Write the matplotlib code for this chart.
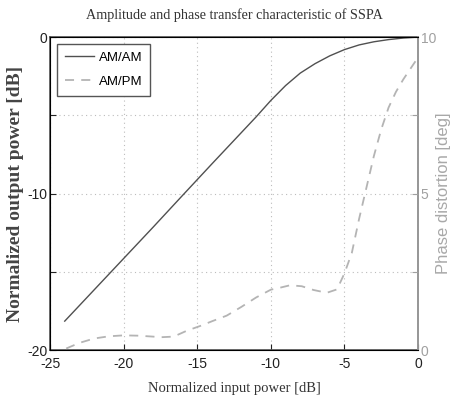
import matplotlib
matplotlib.use("Agg")
import matplotlib.pyplot as plt

# AM/AM: normalized output power vs normalized input power (dB)
am_in = [-24, -22, -20, -18, -16, -14, -12, -11, -10, -9, -8, -7, -6, -5, -4, -3, -2, -1, 0]
am_out = [-18.15, -16.15, -14.15, -12.15, -10.12, -8.1, -6.1, -5.1, -4.05, -3.1, -2.3,
          -1.7, -1.2, -0.8, -0.5, -0.3, -0.16, -0.06, 0.0]

# AM/PM: phase distortion (deg) vs normalized input power (dB)
pm_in = [-23.9, -23, -22, -21, -20, -19, -18, -17.5, -16.6, -15.7, -14.8, -14, -13, -12,
         -11, -10, -9.4, -8.7, -7.9, -7.1, -6.2, -5.5, -5.0, -4.5, -4.0, -3.5, -3.0,
         -2.5, -2.0, -1.5, -1.0, -0.5, 0]
pm_deg = [0.05, 0.23, 0.37, 0.44, 0.47, 0.46, 0.43, 0.41, 0.43, 0.62, 0.77, 0.92, 1.1,
          1.38, 1.68, 1.93, 1.99, 2.07, 2.04, 1.92, 1.83, 1.94, 2.45, 3.1, 4.2, 5.2,
          6.2, 7.05, 7.75, 8.25, 8.65, 9.0, 9.35]

x_ticks = [-25, -20, -15, -10, -5, 0]
left_ticks = [-20, -15, -10, -5, 0]
left_labels = ["-20", "", "-10", "", "0"]
right_ticks = [0, 2.5, 5, 7.5, 10]
right_labels = ["0", "", "5", "", "10"]

dark = "#505050"
light = "#b4b4b4"
serif = "Liberation Serif"
sans = "Liberation Sans"

fig = plt.figure(figsize=(4.51, 4.01), dpi=100)
ax = fig.add_axes([0.1109, 0.127, 0.816, 0.7805])
ax2 = ax.twinx()

l1, = ax.plot(am_in, am_out, color=dark, lw=1.0, label="AM/AM")
l2, = ax2.plot(pm_in, pm_deg, color=light, lw=1.3, ls=(0, (5, 4)), label="AM/PM")

ax.set_xlim(-25, 0)
ax.set_ylim(-20, 0)
ax2.set_ylim(0, 10)
ax.set_xticks(x_ticks)
ax.set_xticklabels([str(t) for t in x_ticks], family=sans, fontsize=10)
ax.set_yticks(left_ticks)
ax.set_yticklabels(left_labels, family=sans, fontsize=10)
ax2.set_yticks(right_ticks)
ax2.set_yticklabels(right_labels, family=sans, fontsize=10, color="#a0a0a0")

ax.grid(True, ls=(0, (1, 3)), color="#bcbcbc", lw=0.8)
ax.tick_params(axis="x", direction="in", length=4, colors="#222222", pad=5)
ax.tick_params(axis="y", direction="in", length=4, colors="#222222", pad=2)
ax2.tick_params(direction="in", length=4, colors="#a0a0a0", pad=2)
for s in ax.spines.values():
    s.set_color("#555555")
    s.set_linewidth(1.2)
ax2.spines["right"].set_color("#a0a0a0")
ax2.spines["right"].set_linewidth(1.2)

ax.set_title("Amplitude and phase transfer characteristic of SSPA",
             family=serif, fontsize=10.2, color="#333333", pad=13)
ax.set_xlabel("Normalized input power [dB]", family=serif, fontsize=10.5,
              color="#333333", labelpad=8)
ax.set_ylabel("Normalized output power [dB]", family=serif, fontsize=14,
              fontweight="bold", color="#444444", labelpad=2)
ax2.set_ylabel("Phase distortion [deg]", family=sans, fontsize=12, color="#a8a8a8",
               labelpad=0)

leg = ax.legend([l1, l2], ["AM/AM", "AM/PM"], loc="upper left", fancybox=False,
                prop={"family": sans, "size": 9.5}, handlelength=2.2, handletextpad=0.4,
                borderpad=0.6, labelspacing=0.9, framealpha=1, edgecolor="#555555")
leg.get_frame().set_linewidth(1.0)

fig.savefig("out.png", dpi=100)
